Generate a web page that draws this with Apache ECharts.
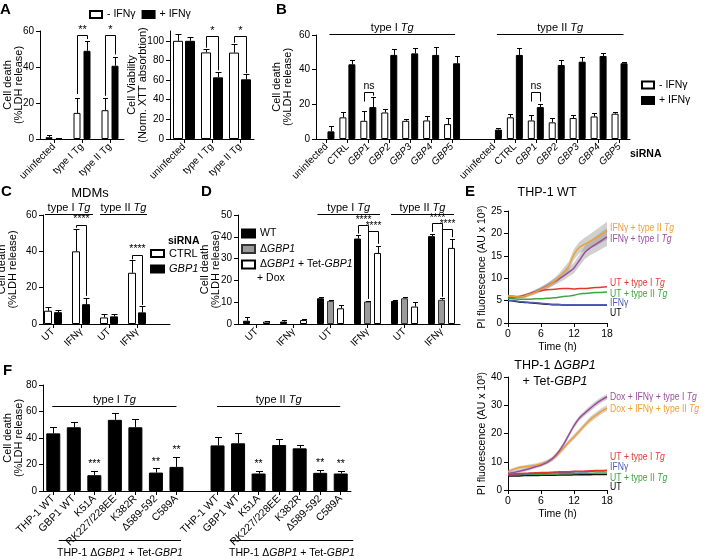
<!DOCTYPE html>
<html><head><meta charset="utf-8">
<script src="https://cdn.jsdelivr.net/npm/echarts@6/dist/echarts.min.js"></script>
<style>html,body{margin:0;padding:0;background:#fff}#c{width:709px;height:560px}</style>
</head><body><div id="c"></div>
<script>
// ---------------- DATA ----------------
// Panel A
const catA = ['uninfected', 'type I Tg', 'type II Tg'];
const aDeathMinus = [1, 14.5, 16];
const aDeathMinusSd = [1, 8.5, 6.8];
const aDeathPlus = [0.5, 49, 40.7];
const aDeathPlusSd = [0.3, 5.5, 4.8];
const aViabMinus = [100, 88.2, 88];
const aViabMinusSd = [7.4, 3.5, 9];
const aViabPlus = [100, 62.8, 60.8];
const aViabPlusSd = [4, 5.5, 5];
const aDeathBrackets = [[1, 0, 1, 57.6, 25, 55.5, '**'], [2, 0, 1, 57.6, 24, 47, '*']];
const aViabBrackets = [[1, 0, 1, 104.7, 93, 70, '*'], [2, 0, 1, 104.7, 98, 67, '*']];
// Panel B
const catB = ['uninfected', 'CTRL', 'GBP1', 'GBP2', 'GBP3', 'GBP4', 'GBP5', '',
              'uninfected', 'CTRL', 'GBP1', 'GBP2', 'GBP3', 'GBP4', 'GBP5'];
const bMinus = [null, 12.5, 10.5, 15.3, 10.5, 10.7, 8.6, null, null, 12.5, 10.7, 9.6, 12.1, 13, 14.6];
const bMinusSd = [0, 3, 5.4, 1.9, 1.2, 2.7, 3.4, 0, 0, 2.1, 3.3, 2.4, 1.5, 2, 0.7];
const bPlus = [4.4, 43.1, 18.4, 48.5, 49.4, 48.5, 43.7, null, 5.4, 48.5, 18.4, 42.7, 44.6, 47.9, 43.7];
const bPlusSd = [3.3, 2.5, 6.1, 3.2, 2.9, 4.4, 4.2, 0, 0.9, 3.8, 1.9, 2.9, 2.5, 1.9, 0.6];
const bBrackets = [[2, 0, 1, 27.4, 21.6, 25, 'ns'], [10, 0, 1, 27.4, 21.6, 21.6, 'ns']];
// Panel C
const catC = ['UT', 'IFNγ', 'UT', 'IFNγ'];
const cCtrl = [7.3, 40, 3.6, 28.2];
const cCtrlSd = [2.3, 12.4, 1.9, 6.8];
const cGbp1 = [6.5, 10.9, 4.2, 6.4];
const cGbp1Sd = [1.3, 3.6, 1.3, 3.6];
const cBrackets = [[1, 0, 1, 54.5, 53, 15.5, '****'], [3, 0, 1, 38.2, 35.6, 10.5, '****']];
// Panel D
const catD = ['UT', 'IFNγ', 'UT', 'IFNγ', 'UT', 'IFNγ'];
const dWT = [1.5, 1.1, 11.8, 39.2, 10.6, 40.3];
const dWTSd = [1.5, 0.7, 0.8, 1.6, 0.4, 1.2];
const dKO = [null, null, 10.6, 10.3, 11.8, 11.1];
const dKOSd = [0, 0, 0.4, 0.3, 0.5, 0.9];
const dRes = [1.1, 1.8, 7.2, 32.6, 8, 34.9];
const dResSd = [0.4, 0.4, 1.6, 3.4, 2, 4.3];
const dBrackets = [[3, 0, 1, 45.6, 41.5, 11.5, '****'], [3, 1, 2, 42.6, 42.6, 36.8, '****'],
                   [5, 0, 1, 46.3, 42.3, 12.5, '****'], [5, 1, 2, 43.4, 43.4, 39.8, '****']];
// Panel E (time in h)
const tE = [0,1,2,3,4,5,6,7,8,9,10,11,12,13,14,15,16,17,18];
const e1Orange = [6.0,5.9,5.8,6.0,6.4,6.9,7.5,8.1,8.9,9.9,11.2,12.6,15.3,16.9,17.6,18.3,19.0,19.8,20.6];
const e1Purple = [6.0,5.9,5.8,6.0,6.5,7.0,7.6,8.2,8.9,9.6,10.4,11.3,12.3,14.0,15.8,16.8,17.6,18.4,19.2];
const e1Sd = [0.3,0.3,0.3,0.4,0.4,0.5,0.5,0.6,0.7,0.8,0.9,1.0,1.2,1.3,1.5,1.6,1.8,1.9,2.0];
const e1Red = [5.8,5.7,5.9,6.2,6.6,7.0,7.2,7.4,7.5,7.6,7.7,7.7,7.6,7.7,7.7,7.8,7.9,8.0,8.1];
const e1Green = [5.6,5.4,5.3,5.3,5.3,5.4,5.4,5.5,5.6,5.7,5.9,6.0,6.2,6.5,6.6,6.7,6.8,6.8,6.9];
const e1Blue = [5.1,5.0,4.8,4.7,4.6,4.5,4.4,4.3,4.2,4.2,4.1,4.1,4.1,4.1,4.1,4.1,4.1,4.1,4.1];
const e1Black = [5.0,4.9,4.7,4.6,4.5,4.4,4.3,4.2,4.1,4.1,4.0,4.0,4.0,4.0,4.0,4.0,4.0,4.0,4.0];
const e2Purple = [5.8,6.2,6.6,7.1,7.6,8.2,8.8,9.7,11.0,13.0,15.8,19.3,22.8,25.5,27.3,29.0,30.6,31.9,33.0];
const e2Orange = [6.5,7.3,7.9,8.2,8.5,8.8,9.2,9.8,10.8,12.5,14.6,16.8,18.8,20.9,23.0,25.0,26.5,27.9,29.0];
const e2Sd = [0.6,0.6,0.6,0.6,0.6,0.6,0.7,0.7,0.7,0.8,0.8,0.8,0.9,0.9,0.9,1.0,1.0,1.0,1.0];
const e2Red = [5.6,5.7,5.8,5.9,6.0,6.1,6.2,6.2,6.3,6.4,6.5,6.5,6.6,6.6,6.7,6.8,6.9,6.9,7.0];
const e2Blue = [5.4,5.5,5.6,5.7,5.8,5.9,5.9,6.0,6.1,6.2,6.3,6.3,6.4,6.5,6.5,6.6,6.7,6.7,6.8];
const e2Green = [5.5,5.5,5.5,5.5,5.6,5.6,5.6,5.7,5.7,5.7,5.8,5.8,5.8,5.9,5.9,5.9,6.0,6.0,6.0];
const e2Black = [5.0,5.0,5.0,5.1,5.1,5.1,5.2,5.2,5.2,5.3,5.3,5.3,5.4,5.4,5.4,5.4,5.5,5.5,5.5];
// Panel F
const catF = ['THP-1 WT', 'GBP1 WT', 'K51A', 'RK227/228EE', 'K382R', 'Δ589-592', 'C589A', '',
              'THP-1 WT', 'GBP1 WT', 'K51A', 'RK227/228EE', 'K382R', 'Δ589-592', 'C589A'];
const fVal = [43.5, 48.1, 11.9, 53.7, 48.1, 13.9, 18.2, null, 34.4, 36, 13.2, 34.7, 32.2, 13.7, 13.2];
const fSd = [5.1, 4.3, 3.3, 5.5, 6.1, 3.1, 7.6, 0, 6.1, 7.5, 2, 4.3, 2.5, 2.5, 2];
const fStars = ['', '', '***', '', '', '**', '**', '', '', '', '**', '', '', '**', '**'];

// ---------------- STYLE / HELPERS ----------------
const FONT = '"Liberation Sans", Arial, Helvetica, sans-serif';
function richSet(sz, color) {
  color = color || '#000';
  return { n: {fontSize: sz, fontFamily: FONT, color: color},
           i: {fontSize: sz, fontFamily: FONT, color: color, fontStyle: 'italic'} };
}
const AXL = {show: true, lineStyle: {color: '#000', width: 1}};
const TCK = {show: true, length: 4, lineStyle: {color: '#000', width: 1}};

function vAxis(gi, min, max, interval, name, gap, extra) {
  return Object.assign({
    type: 'value', gridIndex: gi, min: min, max: max, interval: interval,
    axisLine: AXL, axisTick: TCK,
    axisLabel: {color: '#000', fontSize: 10, fontFamily: FONT, margin: 6},
    splitLine: {show: false},
    name: name, nameLocation: 'middle', nameGap: gap, nameRotate: 90, nameMoveOverlap: false,
    nameTextStyle: {color: '#000', fontSize: 11, fontFamily: FONT, lineHeight: 11.5}
  }, extra || {});
}
function cAxis(gi, data, fmt, extra, fs) {
  fs = fs || 10;
  const lab = {color: '#000', fontSize: fs, fontFamily: FONT, interval: 0, rotate: 45, margin: 6, rich: richSet(fs)};
  if (fmt) lab.formatter = fmt;
  return Object.assign({
    type: 'category', gridIndex: gi, data: data,
    axisLine: AXL,
    axisTick: {show: true, length: 4, alignWithLabel: true, interval: function (i, v) { return v !== ''; }, lineStyle: {color: '#000'}},
    axisLabel: lab, splitLine: {show: false}
  }, extra || {});
}
function bar(name, xi, yi, data, color, border, w, gap) {
  return {type: 'bar', name: name, xAxisIndex: xi, yAxisIndex: yi, data: data,
    barWidth: w, barGap: (gap / w * 100) + '%', silent: true, animation: false,
    itemStyle: {color: color, borderColor: border, borderWidth: 1}, z: 2};
}
function slots(n, w, gap) { const o = []; for (let k = 0; k < n; k++) o.push((k - (n - 1) / 2) * (w + gap)); return o; }
function errBars(xi, yi, vals, sds, off, cap) {
  const data = [];
  vals.forEach(function (v, i) { if (v != null && sds[i] > 0) data.push([i, v, v + sds[i]]); });
  return {type: 'custom', xAxisIndex: xi, yAxisIndex: yi, data: data, z: 5, silent: true, animation: false, clip: false,
    renderItem: function (p, api) {
      const b = api.coord([api.value(0), api.value(1)]);
      const t = api.coord([api.value(0), api.value(2)]);
      const x = Math.round(b[0] + off) + 0.5, yt = Math.round(t[1]) + 0.5;
      return {type: 'group', children: [
        {type: 'line', shape: {x1: x, y1: b[1], x2: x, y2: yt}, style: {stroke: '#000', lineWidth: 1}},
        {type: 'line', shape: {x1: x - cap / 2, y1: yt, x2: x + cap / 2, y2: yt}, style: {stroke: '#000', lineWidth: 1}}
      ]};
    }};
}
function brackets(xi, yi, items, offs, fs) {
  return {type: 'custom', xAxisIndex: xi, yAxisIndex: yi, silent: true, animation: false, clip: false, z: 6,
    data: items.map(function (b) { return [b[0], b[3], b[4], b[5]]; }),
    renderItem: function (p, api) {
      const it = items[p.dataIndex];
      const top = api.coord([api.value(0), api.value(1)]);
      const yl = api.coord([api.value(0), api.value(2)])[1];
      const yr = api.coord([api.value(0), api.value(3)])[1];
      const xl = Math.round(top[0] + offs[it[1]]) + 0.5, xr = Math.round(top[0] + offs[it[2]]) + 0.5;
      const yt = Math.round(top[1]) + 0.5;
      return {type: 'group', children: [
        {type: 'polyline', shape: {points: [[xl, yl], [xl, yt], [xr, yt], [xr, yr]]}, style: {stroke: '#000', lineWidth: 1, fill: null}},
        {type: 'text', x: (xl + xr) / 2, y: yt - 0.5, style: {text: it[6], fontSize: fs, fontFamily: FONT, fill: '#000', align: 'center', verticalAlign: 'bottom'}}
      ]};
    }};
}
function headers(xi, yi, items, texts, pads, fs, below) {
  return {type: 'custom', xAxisIndex: xi, yAxisIndex: yi, silent: true, animation: false, clip: false, z: 6,
    data: items,
    renderItem: function (p, api) {
      const a = api.coord([api.value(0), api.value(2)]);
      const b = api.coord([api.value(1), api.value(2)]);
      const pd = pads[p.dataIndex];
      const x1 = a[0] - pd[0], x2 = b[0] + pd[1], y = Math.round(a[1]) + 0.5;
      return {type: 'group', children: [
        {type: 'line', shape: {x1: x1, y1: y, x2: x2, y2: y}, style: {stroke: '#000', lineWidth: 1}},
        {type: 'text', x: (x1 + x2) / 2, y: below ? y + 7 : y - 1.5,
          style: {text: texts[p.dataIndex], rich: richSet(fs), fontSize: fs, fontFamily: FONT, fill: '#000', align: 'center', verticalAlign: below ? 'top' : 'bottom'}}
      ]};
    }};
}
function starLabels(xi, yi, vals, sds, stars, fs) {
  const data = [];
  vals.forEach(function (v, i) { if (v != null && stars[i]) data.push([i, v + sds[i]]); });
  const lab = data.map(function (d) { return stars[d[0]]; });
  return {type: 'custom', xAxisIndex: xi, yAxisIndex: yi, silent: true, animation: false, clip: false, z: 6, data: data,
    renderItem: function (p, api) {
      const c = api.coord([api.value(0), api.value(1)]);
      return {type: 'text', x: c[0], y: c[1] - 1, style: {text: lab[p.dataIndex], fontSize: fs, fontFamily: FONT, fill: '#000', align: 'center', verticalAlign: 'bottom'}};
    }};
}
function eLine(name, xi, yi, arr, color) {
  return {type: 'line', name: name, xAxisIndex: xi, yAxisIndex: yi, data: tE.map(function (t, i) { return [t, arr[i]]; }),
    symbol: 'none', showSymbol: false, smooth: 0.25, silent: true, animation: false, z: 4,
    lineStyle: {color: color, width: 1.5}};
}
function band(xi, yi, mean, sd) {
  return {type: 'custom', xAxisIndex: xi, yAxisIndex: yi, data: [[tE[0], mean[0]]], silent: true, animation: false, clip: false, z: 1,
    renderItem: function (p, api) {
      const up = tE.map(function (t, i) { return api.coord([t, mean[i] + sd[i]]); });
      const lo = tE.map(function (t, i) { return api.coord([t, mean[i] - sd[i]]); }).reverse();
      return {type: 'polygon', shape: {points: up.concat(lo)}, style: {fill: 'rgba(150,150,150,0.45)'}};
    }};
}
function txt(x, y, text, fs, opts, extra) {
  return Object.assign({type: 'text', x: x, y: y, silent: true,
    style: Object.assign({text: text, fontSize: fs, fontFamily: FONT, fill: '#000', verticalAlign: 'middle'}, opts || {})}, extra || {});
}
function etxt(x, y, text, color) {
  return txt(x, y, text, 11.5, {fill: color, rich: richSet(11.5, color)}, {scaleX: 0.75});
}

// ---------------- LAYOUT ----------------
const grids = [
  {left: 40, top: 31, width: 84, height: 108},    // A left
  {left: 170, top: 31, width: 84, height: 108},   // A right
  {left: 316, top: 35, width: 314, height: 104},  // B
  {left: 39, top: 215, width: 112, height: 109},  // C bars
  {left: 43, top: 215, width: 127, height: 109},  // C frame
  {left: 238, top: 215, width: 222, height: 109}, // D
  {left: 508, top: 211, width: 99, height: 112},  // E top
  {left: 508, top: 377, width: 99, height: 113},  // E bottom
  {left: 43, top: 385, width: 308, height: 106}   // F
].map(function (g) { return Object.assign({containLabel: false, outerBoundsMode: 'none', show: false}, g); });

const italGBP = function (v) { return /^GBP\d$/.test(v) ? '{i|' + v + '}' : v; };
const timeAxis = function (gi) {
  return {type: 'value', gridIndex: gi, min: 0, max: 18, interval: 6, axisLine: AXL, axisTick: TCK,
    axisLabel: {color: '#000', fontSize: 10.5, fontFamily: FONT, margin: 6}, splitLine: {show: false},
    name: 'Time (h)', nameLocation: 'middle', nameGap: 19, nameTextStyle: {color: '#000', fontSize: 10.5, fontFamily: FONT}};
};

const xAxes = [
  cAxis(0, catA),
  cAxis(1, catA),
  cAxis(2, catB, italGBP),
  cAxis(3, catC, null, {axisLine: {show: false}}),
  {type: 'value', gridIndex: 4, min: 0, max: 1, axisLine: AXL, axisTick: {show: false}, axisLabel: {show: false}, splitLine: {show: false}},
  cAxis(5, catD),
  timeAxis(6),
  timeAxis(7),
  cAxis(8, catF, null, null, 10.5)
];
const yAxes = [
  vAxis(0, 0, 60, 20, 'Cell death\n(%LDH release)', 15),
  vAxis(1, 0, 110, 20, 'Cell Viability\n(Norm. XTT absorbtion)', 21, {
    axisLabel: {color: '#000', fontSize: 10, fontFamily: FONT, margin: 6, customValues: [0, 20, 40, 60, 80, 100]},
    axisTick: Object.assign({customValues: [0, 20, 40, 60, 80, 100]}, TCK)}),
  vAxis(2, 0, 60, 20, 'Cell death\n(%LDH release)', 22),
  {type: 'value', gridIndex: 3, min: 0, max: 60, show: false},
  vAxis(4, 0, 60, 20, 'Cell death\n(%LDH release)', 24),
  vAxis(5, 0, 50, 10, 'Cell death\n(%LDH release)', 16),
  vAxis(6, 0, 25, 5, 'PI fluorescence (AU x 10³)', 20, {nameTextStyle: {color: '#000', fontSize: 10.5, fontFamily: FONT}}),
  vAxis(7, 0, 40, 10, 'PI fluorescence (AU x 10³)', 20, {nameTextStyle: {color: '#000', fontSize: 10.5, fontFamily: FONT}}),
  vAxis(8, 0, 80, 20, 'Cell death\n(%LDH release)', 18)
];

const offA = slots(2, 7, 3), offA2 = slots(2, 10, 2), offB = slots(2, 7, 2), offC = slots(2, 8, 2), offD = slots(3, 7, 3);

const series = [
  // A left
  bar('- IFNγ', 0, 0, aDeathMinus, '#fff', '#000', 7, 3),
  bar('+ IFNγ', 0, 0, aDeathPlus, '#000', '#000', 7, 3),
  errBars(0, 0, aDeathMinus, aDeathMinusSd, offA[0], 5),
  errBars(0, 0, aDeathPlus, aDeathPlusSd, offA[1], 5),
  brackets(0, 0, aDeathBrackets, offA, 11),
  // A right
  bar('- IFNγ', 1, 1, aViabMinus, '#fff', '#000', 10, 2),
  bar('+ IFNγ', 1, 1, aViabPlus, '#000', '#000', 10, 2),
  errBars(1, 1, aViabMinus, aViabMinusSd, offA2[0], 6),
  errBars(1, 1, aViabPlus, aViabPlusSd, offA2[1], 6),
  brackets(1, 1, aViabBrackets, offA2, 11),
  // B
  bar('- IFNγ', 2, 2, bMinus, '#fff', '#000', 7, 2),
  bar('+ IFNγ', 2, 2, bPlus, '#000', '#000', 7, 2),
  errBars(2, 2, bMinus, bMinusSd, offB[0], 5),
  errBars(2, 2, bPlus, bPlusSd, offB[1], 5),
  brackets(2, 2, bBrackets, offB, 10.5),
  headers(2, 2, [[0, 6, 60.6], [8, 14, 60.6]], ['{n|type I }{i|Tg}', '{n|type II }{i|Tg}'], [[-3, 3], [-3, 4]], 11, false),
  // C
  bar('CTRL', 3, 3, cCtrl, '#fff', '#000', 8, 2),
  bar('GBP1', 3, 3, cGbp1, '#000', '#000', 8, 2),
  errBars(3, 3, cCtrl, cCtrlSd, offC[0], 6),
  errBars(3, 3, cGbp1, cGbp1Sd, offC[1], 6),
  brackets(3, 3, cBrackets, offC, 10.5),
  headers(3, 3, [[0, 1, 60.5], [2, 3, 60.5]], ['{n|type I }{i|Tg}', '{n|type II }{i|Tg}'], [[8, 12], [9, 10]], 11, false),
  // D
  bar('WT', 5, 5, dWT, '#000', '#000', 7, 3),
  bar('ΔGBP1', 5, 5, dKO, '#9b9b9b', '#333', 7, 3),
  bar('ΔGBP1 + Tet-GBP1', 5, 5, dRes, '#fff', '#000', 7, 3),
  errBars(5, 5, dWT, dWTSd, offD[0], 5),
  errBars(5, 5, dKO, dKOSd, offD[1], 5),
  errBars(5, 5, dRes, dResSd, offD[2], 5),
  brackets(5, 5, dBrackets, offD, 10),
  headers(5, 5, [[2, 3, 50.5], [4, 5, 50.5]], ['{n|type I }{i|Tg}', '{n|type II }{i|Tg}'], [[13, 12.5], [13.5, 12.5]], 11, false),
  // F
  bar('F', 8, 8, fVal, '#000', '#000', 14, 0),
  errBars(8, 8, fVal, fSd, 0, 7),
  starLabels(8, 8, fVal, fSd, fStars, 10.5),
  headers(8, 8, [[0, 6, 63.9], [8, 14, 63.9]], ['{n|type I }{i|Tg}', '{n|type II }{i|Tg}'], [[1, 0], [0.5, -0.5]], 11, false),
  headers(8, 8, [[0, 6, -37.2], [8, 14, -37.2]],
    ['{n|THP-1 Δ}{i|GBP1}{n| + Tet-}{i|GBP1}', '{n|THP-1 Δ}{i|GBP1}{n| + Tet-}{i|GBP1}'], [[-5.5, 4.5], [-13, 12.5]], 10.5, true),
  // E top
  band(6, 6, e1Orange, e1Sd),
  band(6, 6, e1Purple, e1Sd),
  eLine('e1k', 6, 6, e1Black, '#111'),
  eLine('e1b', 6, 6, e1Blue, '#4f5fb5'),
  eLine('e1g', 6, 6, e1Green, '#3fa43f'),
  eLine('e1r', 6, 6, e1Red, '#e0392f'),
  eLine('e1p', 6, 6, e1Purple, '#9b4e9e'),
  eLine('e1o', 6, 6, e1Orange, '#f0a030'),
  // E bottom
  band(7, 7, e2Orange, e2Sd),
  band(7, 7, e2Purple, e2Sd),
  eLine('e2k', 7, 7, e2Black, '#111'),
  eLine('e2g', 7, 7, e2Green, '#3fa43f'),
  eLine('e2b', 7, 7, e2Blue, '#4f5fb5'),
  eLine('e2r', 7, 7, e2Red, '#e0392f'),
  eLine('e2o', 7, 7, e2Orange, '#f0a030'),
  eLine('e2p', 7, 7, e2Purple, '#9b4e9e')
];

const legTxt = {color: '#000', fontSize: 10.5, fontFamily: FONT, rich: richSet(10.5)};
const legends = [
  {data: ['- IFNγ', '+ IFNγ'], left: 89, top: 9, padding: 0, orient: 'horizontal', icon: 'rect', itemWidth: 12, itemHeight: 7, itemGap: 6,
    textStyle: legTxt, selectedMode: false},
  {data: ['- IFNγ', '+ IFNγ'], left: 641, top: 79.5, padding: 0, orient: 'vertical', icon: 'rect', itemWidth: 12, itemHeight: 7, itemGap: 4.5,
    textStyle: legTxt, selectedMode: false},
  {data: ['CTRL', 'GBP1'], left: 150, top: 248, padding: 0, orient: 'vertical', icon: 'rect', itemWidth: 13, itemHeight: 7, itemGap: 4.5,
    formatter: function (n) { return n === 'GBP1' ? '{i|GBP1}' : '{n|' + n + '}'; },
    textStyle: {color: '#000', fontSize: 11, fontFamily: FONT, rich: richSet(11)}, selectedMode: false},
  {data: ['WT', 'ΔGBP1', 'ΔGBP1 + Tet-GBP1'], left: 241, top: 228, padding: 0, orient: 'vertical', icon: 'rect', itemWidth: 13, itemHeight: 8, itemGap: 4.5,
    formatter: function (n) {
      if (n === 'WT') return '{n|WT}';
      if (n === 'ΔGBP1') return '{n|Δ}{i|GBP1}';
      return '{n|Δ}{i|GBP1}{n| + Tet-}{i|GBP1}';
    },
    textStyle: {color: '#000', fontSize: 10.5, fontFamily: FONT, rich: richSet(10.5)}, selectedMode: false}
];

const bold = {fontWeight: 'bold'};
const graphics = [
  txt(0, 10, 'A', 15, bold), txt(276, 10, 'B', 15, bold), txt(1, 192, 'C', 15, bold),
  txt(201, 192, 'D', 15, bold), txt(465, 192, 'E', 15, bold), txt(3, 371, 'F', 15, bold),
  txt(630, 154, 'siRNA', 10.5, bold),
  txt(90, 193, 'MDMs', 13, {align: 'center'}),
  txt(168, 241, 'siRNA', 10.5, bold),
  txt(257, 278, '+ Dox', 10.5),
  txt(547, 193, 'THP-1 WT', 12.5, {align: 'center'}),
  txt(555, 366, '{n|THP-1 Δ}{i|GBP1}', 12.5, {align: 'center', rich: richSet(12.5)}),
  txt(555, 382, '{n|+ Tet-}{i|GBP1}', 12.5, {align: 'center', rich: richSet(12.5)}),
  // E top labels
  etxt(610, 228, '{n|IFNγ + type II }{i|Tg}', '#f0a030'),
  etxt(610, 239, '{n|IFNγ + type I }{i|Tg}', '#9b4e9e'),
  etxt(610, 283, '{n|UT + type I }{i|Tg}', '#e0392f'),
  etxt(610, 294, '{n|UT + type II }{i|Tg}', '#3fa43f'),
  etxt(610, 303, '{n|IFNγ}', '#4f5fb5'),
  etxt(610, 313, '{n|UT}', '#000'),
  // E bottom labels
  etxt(610, 397, '{n|Dox + IFNγ + type I }{i|Tg}', '#9b4e9e'),
  etxt(610, 409, '{n|Dox + IFNγ + type II }{i|Tg}', '#f0a030'),
  etxt(610, 457, '{n|UT + type I }{i|Tg}', '#e0392f'),
  etxt(610, 467, '{n|IFNγ}', '#4f5fb5'),
  etxt(610, 478, '{n|UT + type II }{i|Tg}', '#3fa43f'),
  etxt(610, 487, '{n|UT}', '#000')
];

const chart = echarts.init(document.getElementById('c'), null, {renderer: 'canvas'});
chart.setOption({
  backgroundColor: '#fff',
  animation: false,
  textStyle: {fontFamily: FONT},
  grid: grids, xAxis: xAxes, yAxis: yAxes, series: series, legend: legends,
  graphic: {elements: graphics}
});
</script></body></html>
